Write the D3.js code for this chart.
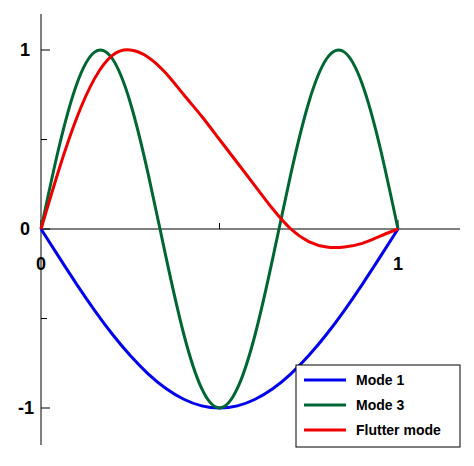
<!DOCTYPE html>
<html><head><meta charset="utf-8">
<script src="https://cdn.jsdelivr.net/npm/d3@7"></script>
<style>body{margin:0;background:#fff}text{font-family:"Liberation Sans",Arial,sans-serif;font-weight:bold}</style>
</head><body><svg id="c" width="474" height="466"></svg>
<script>
var xs = [0,0.05,0.1,0.15,0.2,0.25,0.3,0.35,0.4,0.45,0.5,0.55,0.6,0.65,0.7,0.75,0.8,0.85,0.9,0.95,1];
var mode1 = [0,-0.156,-0.309,-0.454,-0.588,-0.707,-0.809,-0.891,-0.951,-0.988,-1,-0.988,-0.951,-0.891,-0.809,-0.707,-0.588,-0.454,-0.309,-0.156,0];
var mode3 = [0,0.454,0.809,0.988,0.951,0.707,0.309,-0.156,-0.588,-0.891,-1,-0.891,-0.588,-0.156,0.309,0.707,0.951,0.988,0.809,0.454,0];
var flutter = [0,0.33,0.62,0.84,0.97,1,0.96,0.87,0.75,0.63,0.5,0.37,0.24,0.11,0.0,-0.07,-0.1,-0.1,-0.08,-0.04,0];
var series = [
  {name:"Mode 1", color:"#0000ee", ys:mode1},
  {name:"Mode 3", color:"#006633", ys:mode3},
  {name:"Flutter mode", color:"#ee0000", ys:flutter}
];
var xTicks = [0,1], yTicks = [1,0,-1], xMinor = [0.5], yMinor = [0.5,-0.5];

var svg = d3.select("#c");
var x = d3.scaleLinear().domain([0,1]).range([41,398]);
var y = d3.scaleLinear().domain([-1,1]).range([408,50]);

svg.append("line").attr("x1",41).attr("x2",41).attr("y1",14).attr("y2",445).attr("stroke","#000");
svg.append("line").attr("x1",41).attr("x2",460).attr("y1",y(0)).attr("y2",y(0)).attr("stroke","#000");
xMinor.forEach(function(v){svg.append("line").attr("x1",x(v)).attr("x2",x(v)).attr("y1",y(0)).attr("y2",y(0)-6).attr("stroke","#000");});
yMinor.forEach(function(v){svg.append("line").attr("x1",41).attr("x2",47).attr("y1",y(v)).attr("y2",y(v)).attr("stroke","#000");});
yTicks.forEach(function(v){
  svg.append("line").attr("x1",41).attr("x2",50).attr("y1",y(v)).attr("y2",y(v)).attr("stroke","#000");
  svg.append("text").attr("x",v<0?34:30).attr("y",y(v)+6).attr("text-anchor","end").attr("font-size",18).text(v);
});
xTicks.forEach(function(v){
  svg.append("line").attr("x1",x(v)).attr("x2",x(v)).attr("y1",y(0)).attr("y2",y(0)-9).attr("stroke","#000");
  svg.append("text").attr("x",x(v)).attr("y",y(0)+41).attr("text-anchor","middle").attr("font-size",18).text(v);
});

var line = d3.line().x(function(d,i){return x(xs[i]);}).y(function(d){return y(d);}).curve(d3.curveNatural);
series.forEach(function(s){
  svg.append("path").attr("d",line(s.ys)).attr("fill","none").attr("stroke",s.color).attr("stroke-width",3);
});

var lg = svg.append("g").attr("transform","translate(296,365)");
lg.append("rect").attr("width",164).attr("height",82).attr("fill","#fff").attr("stroke","#000");
series.forEach(function(s,i){
  var yy = 15 + i*25;
  lg.append("line").attr("x1",8).attr("x2",50).attr("y1",yy).attr("y2",yy).attr("stroke",s.color).attr("stroke-width",3);
  lg.append("text").attr("x",60).attr("y",yy+5).attr("font-size",14).text(s.name);
});
</script></body></html>
